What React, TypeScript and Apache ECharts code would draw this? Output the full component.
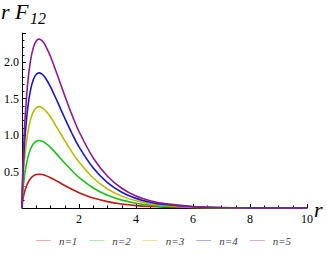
import React, { useEffect, useRef } from "react";
import * as echarts from "echarts";

const rValues = [0, 0.02, 0.05, 0.1, 0.2, 0.3, 0.4, 0.5, 0.6, 0.7, 0.8, 1.0, 1.25, 1.5, 1.75, 2.0, 2.5, 3.0, 3.5, 4.0, 4.5, 5.0, 6.0, 7.0, 8.0, 10.0];
const n1 = [0, 0.084, 0.155, 0.237, 0.342, 0.405, 0.44, 0.458, 0.463, 0.459, 0.449, 0.415, 0.363, 0.308, 0.256, 0.21, 0.137, 0.087, 0.054, 0.033, 0.02, 0.012, 0.004, 0.001, 0.0, 0];
const n2 = [0, 0.169, 0.309, 0.473, 0.684, 0.809, 0.881, 0.916, 0.926, 0.918, 0.897, 0.831, 0.725, 0.616, 0.512, 0.419, 0.274, 0.174, 0.108, 0.066, 0.04, 0.024, 0.008, 0.003, 0.001, 0];
const n3 = [0, 0.253, 0.464, 0.71, 1.027, 1.215, 1.322, 1.375, 1.39, 1.377, 1.347, 1.247, 1.088, 0.924, 0.769, 0.63, 0.411, 0.261, 0.163, 0.099, 0.06, 0.036, 0.013, 0.004, 0.001, 0];
const n4 = [0, 0.337, 0.619, 0.947, 1.369, 1.62, 1.762, 1.833, 1.853, 1.836, 1.796, 1.662, 1.451, 1.232, 1.025, 0.839, 0.548, 0.348, 0.217, 0.132, 0.08, 0.048, 0.017, 0.006, 0.002, 0];
const n5 = [0, 0.421, 0.774, 1.183, 1.712, 2.024, 2.203, 2.291, 2.316, 2.295, 2.244, 2.077, 1.813, 1.54, 1.281, 1.049, 0.686, 0.435, 0.271, 0.164, 0.1, 0.06, 0.021, 0.007, 0.002, 0];

const seriesNames = ["n=1", "n=2", "n=3", "n=4", "n=5"];
const seriesValues = [n1, n2, n3, n4, n5];
const colors = ["#c01818", "#1fbf1f", "#bdb800", "#1818c8", "#8e1a92"];
const xTickLabels = ["2", "4", "6", "8", "10"];
const yTickLabels = ["0.5", "1.0", "1.5", "2.0"];

const SERIF = "'Liberation Serif', 'DejaVu Serif', serif";

export default function App() {
  const ref = useRef<HTMLDivElement>(null);
  useEffect(() => {
    document.body.style.margin = "0";
    const chart = echarts.init(ref.current!, null, { renderer: "svg" });
    chart.setOption({
      animation: false,
      backgroundColor: "#ffffff",
      grid: { left: 22, right: 20, top: 33, bottom: 50, containLabel: false },
      legend: {
        bottom: 7,
        left: "center",
        itemWidth: 15,
        itemHeight: 1,
        itemGap: 12,
        icon: "rect",
        textStyle: { fontFamily: SERIF, fontStyle: "italic", fontSize: 11, color: "#444", padding: [0, 0, 0, 3] },
        data: seriesNames.map((n, i) => ({ name: n, itemStyle: { color: colors[i], opacity: 0.35 } })),
      },
      xAxis: {
        type: "value",
        min: 0,
        max: 10,
        interval: 2,
        axisLine: { show: true, onZero: true, lineStyle: { color: "#000", width: 1 } },
        axisTick: { show: true, inside: true, length: 4, lineStyle: { color: "#000" } },
        minorTick: { show: true, splitNumber: 4, length: 2.5, lineStyle: { color: "#000" } },
        splitLine: { show: false },
        axisLabel: {
          fontFamily: SERIF,
          fontSize: 12,
          color: "#000",
          margin: 5,
          formatter: (v: number) => (xTickLabels.includes(String(v)) ? String(v) : ""),
        },
      },
      yAxis: {
        type: "value",
        min: 0,
        max: 2.4,
        interval: 0.5,
        axisLine: { show: true, lineStyle: { color: "#000", width: 1 } },
        axisTick: { show: true, inside: true, length: 4, lineStyle: { color: "#000" } },
        minorTick: { show: true, splitNumber: 5, length: 2.5, lineStyle: { color: "#000" } },
        splitLine: { show: false },
        axisLabel: {
          fontFamily: SERIF,
          fontSize: 12,
          color: "#000",
          margin: 3,
          showMaxLabel: false,
          formatter: (v: number) => {
            const s = v.toFixed(1);
            return yTickLabels.includes(s) && Math.abs(v - parseFloat(s)) < 1e-6 ? s : "";
          },
        },
      },
      graphic: [
        {
          type: "text",
          left: 1,
          top: 0,
          style: { text: "r F", fontFamily: SERIF, fontStyle: "italic", fontSize: 22, fill: "#000" },
        },
        {
          type: "text",
          left: 30,
          top: 10,
          style: { text: "12", fontFamily: SERIF, fontStyle: "italic", fontSize: 16, fill: "#000" },
        },
        {
          type: "text",
          left: 314,
          top: 198,
          style: { text: "r", fontFamily: SERIF, fontStyle: "italic", fontSize: 22, fill: "#000" },
        },
      ],
      series: seriesValues.map((vals, i) => ({
        name: seriesNames[i],
        type: "line",
        smooth: 0.3,
        showSymbol: false,
        symbol: "none",
        color: colors[i],
        lineStyle: { width: 1.6, color: colors[i] },
        data: rValues.map((r, j) => [r, vals[j]]),
      })),
    });
    return () => chart.dispose();
  }, []);
  return <div ref={ref} style={{ width: 327, height: 258, position: "absolute", left: 0, top: 0 }} />;
}
